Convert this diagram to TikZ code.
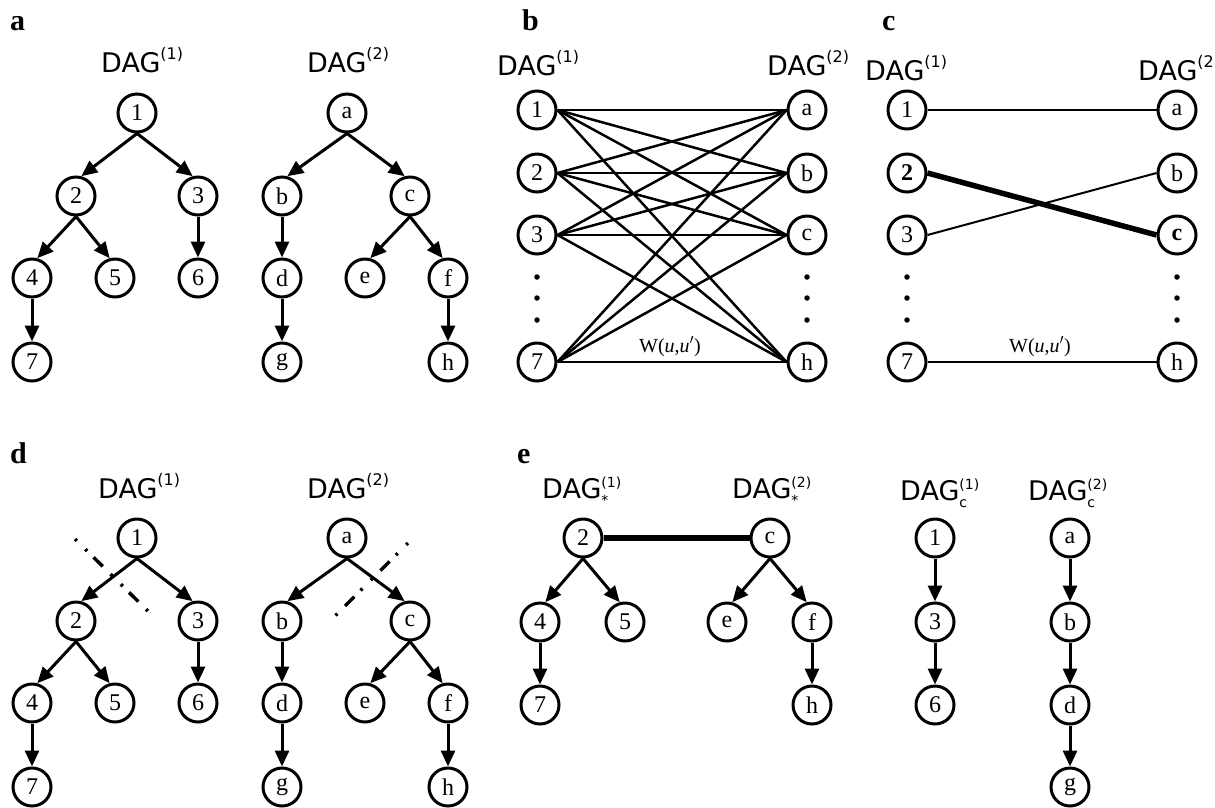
\documentclass[tikz,border=0pt]{standalone}
\usepackage{fontspec}
\setmainfont{Liberation Serif}
\newfontfamily\dagfont{DejaVu Sans}
\usetikzlibrary{arrows.meta}
\newcommand{\supf}{\fontsize{16}{16}\selectfont}
\newcommand{\ssf}{\fontsize{14}{14}\selectfont}
\newcommand{\DAGone}[1]{DAG\raisebox{13pt}{\supf #1}}
\newcommand{\DAGtwo}[2]{DAG\rlap{\raisebox{11pt}{\ssf #1}}\raisebox{-7pt}{\ssf #2}}
\tikzset{
  vtx/.style={circle,draw,line width=3pt,minimum size=38pt,inner sep=0pt,font=\fontsize{24}{24}\selectfont},
  arr/.style={line width=3pt,-{Triangle[length=16pt,width=14pt]}},
  lbl/.style={anchor=base west,inner sep=0pt,font=\dagfont\fontsize{27}{27}\selectfont},
  panel/.style={anchor=base west,inner sep=0pt,font=\bfseries\fontsize{30}{30}\selectfont},
  bip/.style={line width=2.5pt},
  thinm/.style={line width=2pt},
  thickm/.style={line width=5.5pt},
  dotv/.style={circle,fill,inner sep=0pt,minimum size=5.5pt},
  wlab/.style={anchor=base,inner sep=0pt,font=\fontsize{20}{20}\selectfont},
  cut/.style={line width=3.5pt,dash pattern=on 2.5pt off 12pt on 2.5pt off 9pt on 13pt off 11pt}
}
\begin{document}
\begin{tikzpicture}[x=1pt,y=-1pt]
\useasboundingbox (0,0) rectangle (1215,807);
% panel letters
\node[panel] (la) at (10,30) {a};
\node[panel] (lb) at (522,30) {b};
\node[panel] (lc) at (882,30) {c};
\node[panel] (ld) at (10,463) {d};
\node[panel] (le) at (517,463) {e};
% DAG labels
\node[lbl] (ta1) at (101,72) {\DAGone{(1)}};
\node[lbl] (ta2) at (307,72) {\DAGone{(2)}};
\node[lbl] (tb1) at (497,75) {\DAGone{(1)}};
\node[lbl] (tb2) at (767,75) {\DAGone{(2)}};
\node[lbl] (tc1) at (865,80) {\DAGone{(1)}};
\node[lbl] (tc2) at (1138,80) {\DAGone{(2}};
\node[lbl] (td1) at (98,498) {\DAGone{(1)}};
\node[lbl] (td2) at (307,498) {\DAGone{(2)}};
\node[lbl] (te1) at (542,498) {\DAGtwo{(1)}{*}};
\node[lbl] (te2) at (732,498) {\DAGtwo{(2)}{*}};
\node[lbl] (te3) at (900,500) {\DAGtwo{(1)}{c}};
\node[lbl] (te4) at (1028,500) {\DAGtwo{(2)}{c}};
% panels a and d
\foreach \p/\dy in {a/0,d/425}{
  \node[vtx] (\p1) at (137,113+\dy) {1};
  \node[vtx] (\p2) at (76,196+\dy) {2};
  \node[vtx] (\p3) at (198,196+\dy) {3};
  \node[vtx] (\p4) at (32,278+\dy) {4};
  \node[vtx] (\p5) at (115,278+\dy) {5};
  \node[vtx] (\p6) at (198,278+\dy) {6};
  \node[vtx] (\p7) at (32,362+\dy) {7};
  \node[vtx] (\p a) at (347,113+\dy) {a};
  \node[vtx] (\p b) at (282,196+\dy) {b};
  \node[vtx] (\p c) at (410,196+\dy) {c};
  \node[vtx] (\p d) at (282,278+\dy) {d};
  \node[vtx] (\p e) at (365,278+\dy) {e};
  \node[vtx] (\p f) at (448,278+\dy) {f};
  \node[vtx] (\p g) at (282,362+\dy) {g};
  \node[vtx] (\p h) at (448,362+\dy) {h};
  \draw[arr] (\p1.south) -- (\p2.75);
  \draw[arr] (\p1.south) -- (\p3.105);
  \draw[arr] (\p2.south) -- (\p4.75);
  \draw[arr] (\p2.south) -- (\p5.105);
  \draw[arr] (\p3.south) -- (\p6.north);
  \draw[arr] (\p4.south) -- (\p7.north);
  \draw[arr] (\p a.south) -- (\p b.75);
  \draw[arr] (\p a.south) -- (\p c.105);
  \draw[arr] (\p b.south) -- (\p d.north);
  \draw[arr] (\p c.south) -- (\p e.75);
  \draw[arr] (\p c.south) -- (\p f.105);
  \draw[arr] (\p d.south) -- (\p g.north);
  \draw[arr] (\p f.south) -- (\p h.north);
}
% cut lines in d
\coordinate (cutl1) at (75,539);
\coordinate (cutl2) at (155,618);
\coordinate (cutr1) at (408,543);
\coordinate (cutr2) at (328,623);
\draw[cut] (cutl1) -- (cutl2);
\draw[cut] (cutr1) -- (cutr2);
% panel b
\node[vtx] (b1) at (537,110) {1};
\node[vtx] (b2) at (537,173) {2};
\node[vtx] (b3) at (537,235) {3};
\node[vtx] (b7) at (537,362) {7};
\node[vtx] (ba) at (807,110) {a};
\node[vtx] (bb) at (807,173) {b};
\node[vtx] (bc) at (807,235) {c};
\node[vtx] (bh) at (807,362) {h};
\foreach \l in {1,2,3,7}{
  \foreach \r in {a,b,c,h}{
    \draw[bip] (b\l.east) -- (b\r.west);
  }
}
\foreach \yy [count=\i] in {277,298,320}{
  \node[dotv] (bdl\i) at (537,\yy) {};
  \node[dotv] (bdr\i) at (807,\yy) {};
}
\node[wlab] (bw) at (670,352) {W(\textit{u},\textit{u}$'$)};
% panel c
\node[vtx] (c1) at (907,110) {1};
\node[vtx] (c2) at (907,173) {\textbf{2}};
\node[vtx] (c3) at (907,235) {3};
\node[vtx] (c7) at (907,362) {7};
\node[vtx] (ca) at (1177,110) {a};
\node[vtx] (cb) at (1177,173) {b};
\node[vtx] (cc) at (1177,235) {\textbf{c}};
\node[vtx] (ch) at (1177,362) {h};
\draw[thinm] (c1.east) -- (ca.west);
\draw[thickm] (c2.east) -- (cc.west);
\draw[thinm] (c3.east) -- (cb.west);
\draw[thinm] (c7.east) -- (ch.west);
\foreach \yy [count=\i] in {277,298,320}{
  \node[dotv] (cdl\i) at (907,\yy) {};
  \node[dotv] (cdr\i) at (1177,\yy) {};
}
\node[wlab] (cw) at (1040,352) {W(\textit{u},\textit{u}$'$)};
% panel e
\node[vtx] (e2) at (583,538) {2};
\node[vtx] (ec) at (770,538) {c};
\node[vtx] (e4) at (540,622) {4};
\node[vtx] (e5) at (625,622) {5};
\node[vtx] (ee) at (727,622) {e};
\node[vtx] (ef) at (812,622) {f};
\node[vtx] (e7) at (540,705) {7};
\node[vtx] (eh) at (812,705) {h};
\draw[thickm] (e2.east) -- (ec.west);
\draw[arr] (e2.south) -- (e4.75);
\draw[arr] (e2.south) -- (e5.105);
\draw[arr] (e4.south) -- (e7.north);
\draw[arr] (ec.south) -- (ee.75);
\draw[arr] (ec.south) -- (ef.105);
\draw[arr] (ef.south) -- (eh.north);
\node[vtx] (k1) at (935,538) {1};
\node[vtx] (k3) at (935,622) {3};
\node[vtx] (k6) at (935,705) {6};
\node[vtx] (ka) at (1070,538) {a};
\node[vtx] (kb) at (1070,622) {b};
\node[vtx] (kd) at (1070,705) {d};
\node[vtx] (kg) at (1070,787) {g};
\draw[arr] (k1.south) -- (k3.north);
\draw[arr] (k3.south) -- (k6.north);
\draw[arr] (ka.south) -- (kb.north);
\draw[arr] (kb.south) -- (kd.north);
\draw[arr] (kd.south) -- (kg.north);
\end{tikzpicture}
\end{document}
